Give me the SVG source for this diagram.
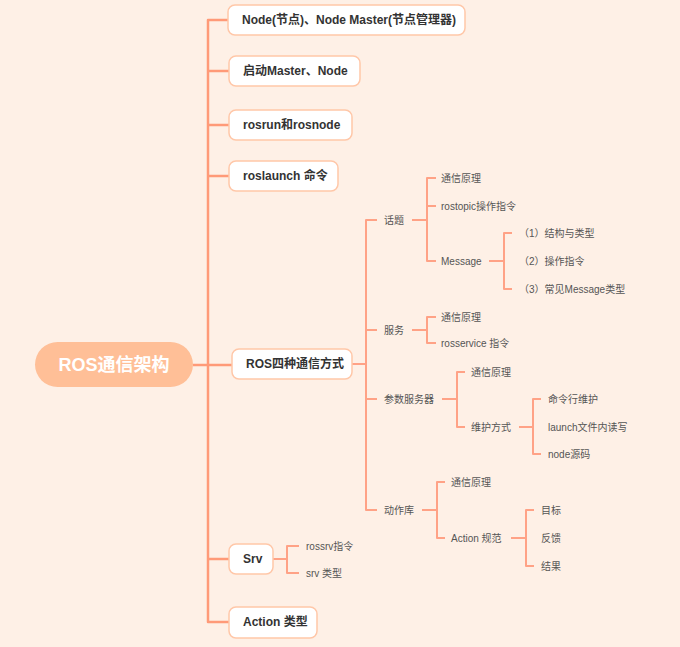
<svg xmlns="http://www.w3.org/2000/svg" width="680" height="647" viewBox="0 0 680 647">
<style>
.bg{fill:#FEF0E6}
.box{fill:#FFFFFF;stroke:#FFC7A8;stroke-width:1.5}
.root{fill:#FFBF97}
.t1{font-family:"Liberation Sans","Noto Sans CJK SC",sans-serif;font-size:12px;font-weight:bold;fill:#333333;dominant-baseline:central}
.t2{font-family:"Liberation Sans","Noto Sans CJK SC",sans-serif;font-size:10px;fill:#555555;dominant-baseline:central}
.tr{font-family:"Liberation Sans","Noto Sans CJK SC",sans-serif;font-size:18px;font-weight:bold;fill:#FFFFFF;dominant-baseline:central;text-anchor:middle}
.l1{fill:none;stroke:#FF9A78;stroke-width:2.5;stroke-linejoin:round}
.l2{fill:none;stroke:#FFA286;stroke-width:2;stroke-linejoin:round}
</style>
<rect class="bg" x="0" y="0" width="680" height="647"/>
<g id="connectors">
<path class="l1" d="M193,365 H232 M228,20 H208 V622 H229 M208,71 H229 M208,125 H229 M208,176 H229 M208,559 H229"/>
<path class="l2" d="M352,364 H366 M377,220 H366 V510 H377 M366,330 H377 M366,399 H377"/>
<path class="l2" d="M412,220 H427 M436,178 H427 V261 H436 M427,206 H436"/>
<path class="l2" d="M489,261 H504 M512,233 H504 V289 H512"/>
<path class="l2" d="M412,330 H427 M436,317 H427 V343 H436"/>
<path class="l2" d="M442,399 H457 M465,372 H457 V427 H465"/>
<path class="l2" d="M519,427 H533 M541,399 H533 V454 H541"/>
<path class="l2" d="M422,510 H437 M445,482 H437 V538 H445"/>
<path class="l2" d="M511,538 H526 M534,510 H526 V566 H534"/>
<path class="l2" d="M273,559 H287 M299,546 H287 V573 H299"/>
</g>
<g id="root"><rect class="root" x="35" y="342" width="158" height="45" rx="22.5"/><text class="tr" x="114" y="365">ROS通信架构</text></g>
<g id="n1"><rect class="box" x="228" y="5" width="237" height="30" rx="7"/><text class="t1" x="242" y="20">Node(节点)、Node Master(节点管理器)</text></g>
<g id="n2"><rect class="box" x="229" y="56" width="131" height="30" rx="7"/><text class="t1" x="243" y="71">启动Master、Node</text></g>
<g id="n3"><rect class="box" x="229" y="110" width="123" height="30" rx="7"/><text class="t1" x="243" y="125">rosrun和rosnode</text></g>
<g id="n4"><rect class="box" x="229" y="161" width="109" height="30" rx="7"/><text class="t1" x="243" y="176">roslaunch 命令</text></g>
<g id="n5"><rect class="box" x="232" y="349" width="120" height="30" rx="7"/><text class="t1" x="246" y="364">ROS四种通信方式</text></g>
<g id="n6"><rect class="box" x="229" y="544" width="44" height="30" rx="7"/><text class="t1" x="243" y="559">Srv</text></g>
<g id="n7"><rect class="box" x="229" y="607" width="88" height="31" rx="7"/><text class="t1" x="243" y="622">Action 类型</text></g>
<g id="topic"><text class="t2" x="384" y="220">话题</text></g>
<g id="topic-1"><text class="t2" x="441" y="178">通信原理</text></g>
<g id="topic-2"><text class="t2" x="441" y="206">rostopic操作指令</text></g>
<g id="topic-3"><text class="t2" x="441" y="261">Message</text></g>
<g id="msg-1"><text class="t2" x="519" y="233">（1）结构与类型</text></g>
<g id="msg-2"><text class="t2" x="519" y="261">（2）操作指令</text></g>
<g id="msg-3"><text class="t2" x="519" y="289">（3）常见Message类型</text></g>
<g id="service"><text class="t2" x="384" y="330">服务</text></g>
<g id="service-1"><text class="t2" x="441" y="317">通信原理</text></g>
<g id="service-2"><text class="t2" x="441" y="343">rosservice 指令</text></g>
<g id="param"><text class="t2" x="384" y="399">参数服务器</text></g>
<g id="param-1"><text class="t2" x="471" y="372">通信原理</text></g>
<g id="param-2"><text class="t2" x="471" y="427">维护方式</text></g>
<g id="maint-1"><text class="t2" x="548" y="399">命令行维护</text></g>
<g id="maint-2"><text class="t2" x="548" y="427">launch文件内读写</text></g>
<g id="maint-3"><text class="t2" x="548" y="454">node源码</text></g>
<g id="action"><text class="t2" x="384" y="510">动作库</text></g>
<g id="action-1"><text class="t2" x="451" y="482">通信原理</text></g>
<g id="action-2"><text class="t2" x="451" y="538">Action 规范</text></g>
<g id="spec-1"><text class="t2" x="541" y="510">目标</text></g>
<g id="spec-2"><text class="t2" x="541" y="538">反馈</text></g>
<g id="spec-3"><text class="t2" x="541" y="566">结果</text></g>
<g id="srv-1"><text class="t2" x="306" y="546">rossrv指令</text></g>
<g id="srv-2"><text class="t2" x="306" y="573">srv 类型</text></g>
</svg>
